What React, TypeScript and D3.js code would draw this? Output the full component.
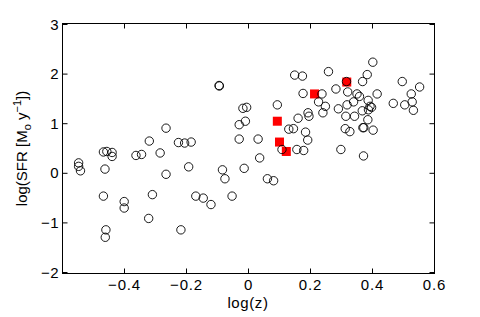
import * as d3 from "d3"

// open circles: [log(z), log(SFR)]
const circleX = [
  -0.095, -0.094, -0.018, -0.006, -0.03, -0.01, -0.03, 0.031, -0.266, -0.32,
  -0.226, -0.206, -0.185, -0.468, -0.457, -0.44, -0.44, -0.363, -0.345, -0.285,
  -0.548, -0.548, -0.542, -0.463, -0.266, -0.193, -0.084, -0.076, -0.014, 0.036,
  -0.468, -0.401, -0.401, -0.31, -0.17, -0.146, -0.121, -0.053, -0.322, -0.46,
  -0.462, -0.218, 0.108, 0.156, 0.178, 0.298, 0.371, 0.061, 0.081, 0.401,
  0.258, 0.149, 0.174, 0.383, 0.316, 0.368, 0.496, 0.552, 0.525, 0.528,
  0.504, 0.532, 0.467, 0.282, 0.32, 0.35, 0.358, 0.415, 0.386, 0.392,
  0.397, 0.387, 0.339, 0.318, 0.367, 0.29, 0.314, 0.342, 0.385, 0.369,
  0.372, 0.402, 0.312, 0.327, 0.237, 0.176, 0.226, 0.248, 0.24, 0.192,
  0.195, 0.16, 0.093, 0.13, 0.145, 0.184, 0.191,
]
const circleY = [
  1.77, 1.76, 1.31, 1.33, 0.98, 1.05, 0.69, 0.69, 0.91, 0.65,
  0.62, 0.61, 0.63, 0.43, 0.44, 0.42, 0.34, 0.36, 0.38, 0.41,
  0.21, 0.14, 0.05, 0.085, -0.02, 0.13, 0.07, -0.11, 0.1, 0.31,
  -0.46, -0.57, -0.7, -0.43, -0.46, -0.5, -0.63, -0.46, -0.91, -1.14,
  -1.29, -1.14, 0.48, 0.48, 0.46, 0.48, 0.35, -0.11, -0.15, 2.24,
  2.05, 1.98, 1.96, 1.99, 1.85, 1.85, 1.85, 1.74, 1.6, 1.44,
  1.38, 1.27, 1.41, 1.7, 1.64, 1.6, 1.55, 1.6, 1.47, 1.35,
  1.33, 1.28, 1.44, 1.38, 1.26, 1.3, 1.15, 1.15, 1.08, 0.92,
  0.92, 0.87, 0.9, 0.84, 1.6, 1.61, 1.44, 1.35, 1.22, 1.22,
  1.15, 1.11, 1.38, 0.89, 0.9, 0.83, 0.67,
]

// filled red squares
const squareX = [0.093, 0.1, 0.122, 0.213, 0.317]
const squareY = [1.05, 0.63, 0.44, 1.6, 1.84]

const xTicks = [-0.4, -0.2, 0, 0.2, 0.4, 0.6]
const yTicks = [-2, -1, 0, 1, 2, 3]

const W = 480
const H = 317
const LEFT = 62.5
const RIGHT = 434.5
const TOP = 23.5
const BOTTOM = 273.5
const FONT = "'Liberation Sans', Arial, Helvetica, sans-serif"

const fmt = (v: number) => (v < 0 ? "\u2212" + String(-v) : String(v))

export default function App() {
  const x = d3.scaleLinear().domain([-0.6, 0.6]).range([LEFT, RIGHT])
  const y = d3.scaleLinear().domain([-2, 3]).range([272.5, 24.5])

  const TICK = 5

  return (
    <svg
      width={W}
      height={H}
      style={{ position: "absolute", left: 0, top: 0, background: "#fff" }}
      fontFamily={FONT}
    >
      <rect x={0} y={0} width={W} height={H} fill="#fff" />

      {/* red squares */}
      {squareX.map((d, i) => (
        <rect
          key={"s" + i}
          x={x(d) - 4.5}
          y={y(squareY[i]) - 4.5}
          width={9}
          height={9}
          fill="#ff0000"
        />
      ))}

      {/* open circles */}
      {circleX.map((d, i) => (
        <circle
          key={"c" + i}
          cx={x(d)}
          cy={y(circleY[i])}
          r={4.2}
          fill="none"
          stroke="#000"
          strokeWidth={0.9}
        />
      ))}

      {/* box */}
      <rect
        x={LEFT}
        y={TOP}
        width={RIGHT - LEFT}
        height={BOTTOM - TOP}
        fill="none"
        stroke="#000"
        strokeWidth={1}
      />

      {/* x ticks */}
      {xTicks.map((t) => (
        <g key={"xt" + t}>
          <line x1={x(t)} x2={x(t)} y1={BOTTOM} y2={BOTTOM - TICK} stroke="#000" />
          <line x1={x(t)} x2={x(t)} y1={TOP} y2={TOP + TICK} stroke="#000" />
          <text
            x={x(t)}
            y={290}
            fontSize={15}
            letterSpacing={0.8}
            textAnchor="middle"
            fill="#000"
          >
            {fmt(t)}
          </text>
        </g>
      ))}

      {/* y ticks */}
      {yTicks.map((t) => (
        <g key={"yt" + t}>
          <line x1={LEFT} x2={LEFT + TICK} y1={y(t)} y2={y(t)} stroke="#000" />
          <line x1={RIGHT} x2={RIGHT - TICK} y1={y(t)} y2={y(t)} stroke="#000" />
          <text
            x={59}
            y={y(t) + 5}
            fontSize={15}
            letterSpacing={0.5}
            textAnchor="end"
            fill="#000"
          >
            {fmt(t)}
          </text>
        </g>
      ))}

      {/* axis labels */}
      <text
        x={248}
        y={307.5}
        fontSize={15}
        letterSpacing={0.6}
        textAnchor="middle"
        fill="#000"
      >
        log(z)
      </text>
      <text
        transform={`translate(27, ${(TOP + BOTTOM) / 2}) rotate(-90)`}
        fontSize={15}
        textAnchor="middle"
        fill="#000"
      >
        <tspan>log(SFR [M</tspan>
        <tspan fontSize={11} dy={4}>o</tspan>
        <tspan dy={-4}> y</tspan>
        <tspan fontSize={11} dy={-6}>{"\u22121"}</tspan>
        <tspan dy={6}>])</tspan>
      </text>
    </svg>
  )
}
